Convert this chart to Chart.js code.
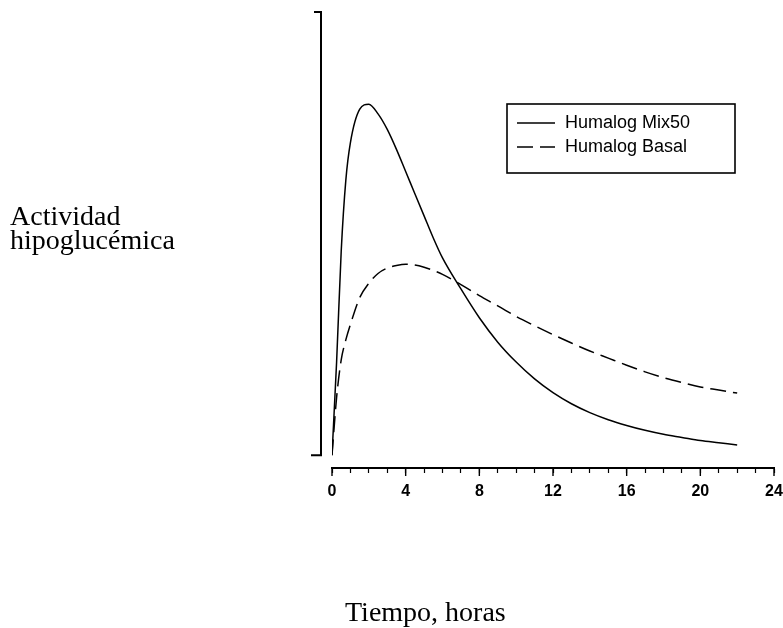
<!DOCTYPE html>
<html>
<head>
<meta charset="utf-8">
<script src="https://cdn.jsdelivr.net/npm/chart.js@4.4.0/dist/chart.umd.min.js"></script>
<style>
  html, body { margin: 0; padding: 0; background: #fff; }
  #wrap { position: relative; width: 783px; height: 628px; }
</style>
</head>
<body>
<div id="wrap"><canvas id="actChart" width="783" height="628"></canvas></div>
<script>
// Time axis (hours) and estimated activity curves
const hours = [0, 0.25, 0.5, 0.75, 1, 1.5, 2, 2.5, 3, 3.5, 4, 4.5, 5, 5.5, 6, 7, 8, 9, 10, 11, 12, 13, 14, 15, 16, 17, 18, 19, 20, 21, 22];
const mix50 = [0, 21, 46, 62, 70.5, 78, 79.2, 77, 73.5, 69, 64, 59, 54, 49, 44.5, 37.5, 31, 25.5, 21, 17.2, 14.1, 11.6, 9.6, 8.0, 6.7, 5.6, 4.7, 4.0, 3.3, 2.8, 2.3];
const basal = [0, 13, 21.5, 26, 29.5, 35.5, 38.8, 41, 42.2, 42.8, 43.1, 42.9, 42.4, 41.7, 40.8, 38.5, 36, 33.7, 31.3, 29.2, 27.2, 25.3, 23.5, 21.9, 20.3, 18.8, 17.5, 16.4, 15.4, 14.7, 14];
const seriesNames = ["Humalog Mix50", "Humalog Basal"];
const xTickLabels = [0, 4, 8, 12, 16, 20, 24];

const yLabelLines = ["Actividad", "hipoglucémica"];
const xTitle = "Tiempo, horas";

document.addEventListener("DOMContentLoaded", function () {
  const ctx = document.getElementById("actChart");

  // -- custom drawing: detached y axis, legend box, axis titles --
  const decorPlugin = {
    id: "decor",
    afterDraw(chart) {
      const c = chart.ctx;
      const xs = chart.scales.x;
      const ys = chart.scales.y;
      const top = ys.getPixelForValue(100);
      const bottom = ys.getPixelForValue(0);
      const ax = xs.getPixelForValue(0) - 11;

      c.save();
      c.strokeStyle = "#000";
      c.lineWidth = 2;
      c.beginPath();
      c.moveTo(ax - 7, top);
      c.lineTo(ax, top);
      c.lineTo(ax, bottom);
      c.lineTo(ax - 10, bottom);
      c.stroke();

      // longer marks at the labelled hours
      const axisY = chart.chartArea.bottom;
      c.lineWidth = 1.4;
      xTickLabels.forEach(function (h) {
        const px = xs.getPixelForValue(h);
        c.beginPath();
        c.moveTo(px, axisY);
        c.lineTo(px, axisY + 8);
        c.stroke();
      });

      // legend
      const lx = 507, ly = 104, lw = 228, lh = 69;
      c.lineWidth = 1.6;
      c.strokeRect(lx, ly, lw, lh);
      c.font = "18px 'Liberation Sans', Arial, sans-serif";
      c.textBaseline = "middle";
      c.fillStyle = "#000";
      chart.data.datasets.forEach(function (ds, i) {
        const yy = ly + 19 + i * 24;
        c.lineWidth = 1.3;
        c.setLineDash(ds.borderDash || []);
        c.beginPath();
        c.moveTo(lx + 10, yy);
        c.lineTo(lx + 48, yy);
        c.stroke();
        c.setLineDash([]);
        c.fillText(ds.label, lx + 58, yy);
      });

      // titles
      c.font = "28px 'Liberation Serif', 'Times New Roman', serif";
      c.textBaseline = "alphabetic";
      c.fillText(yLabelLines[0], 10, 225);
      c.fillText(yLabelLines[1], 10, 249);
      c.fillText(xTitle, 345, 621);
      c.restore();
    },
  };

  new Chart(ctx, {
    type: "line",
    data: {
      datasets: [
        {
          label: seriesNames[0],
          data: hours.map((h, i) => ({ x: h, y: mix50[i] })),
          borderColor: "#000",
          borderWidth: 1.5,
          pointRadius: 0,
          cubicInterpolationMode: "monotone",
          fill: false,
        },
        {
          label: seriesNames[1],
          data: hours.map((h, i) => ({ x: h, y: basal[i] })),
          borderColor: "#000",
          borderWidth: 1.5,
          borderDash: [16, 7],
          pointRadius: 0,
          cubicInterpolationMode: "monotone",
          fill: false,
        },
      ],
    },
    options: {
      responsive: false,
      animation: false,
      layout: { padding: { left: 332, right: 9, top: 12, bottom: 0 } },
      plugins: {
        legend: { display: false },
        tooltip: { enabled: false },
      },
      scales: {
        x: {
          type: "linear",
          min: 0,
          max: 24,
          afterFit: function (scale) {
            scale.height = 160;
            scale.paddingLeft = 0;
            scale.paddingRight = 0;
          },
          border: { display: true, color: "#000", width: 2 },
          grid: {
            drawOnChartArea: false,
            drawTicks: true,
            color: "#000",
            tickLength: 5,
            tickWidth: 1.2,
          },
          ticks: {
            stepSize: 1,
            autoSkip: false,
            maxRotation: 0,
            padding: 9,
            color: "#000",
            font: { family: "'Liberation Sans', Arial, sans-serif", size: 16, weight: "bold" },
            callback: function (v) {
              return xTickLabels.includes(v) ? String(v) : "";
            },
          },
        },
        y: {
          display: false,
          min: -2.9,
          max: 100,
        },
      },
    },
    plugins: [decorPlugin],
  });
});
</script>
</body>
</html>
